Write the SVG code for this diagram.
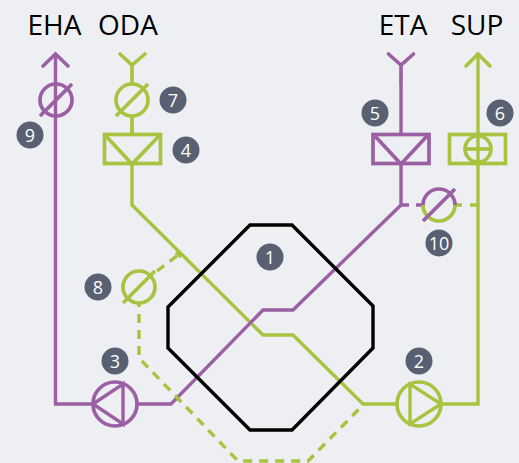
<svg xmlns="http://www.w3.org/2000/svg" width="519" height="463" viewBox="0 0 519 463">
<style>
.p,.g,.k{fill:none;stroke-linejoin:miter}
.p{stroke:#9b5fa3;stroke-width:3.4}
.g{stroke:#a9c23f;stroke-width:3.4}
.s{stroke-width:3.7}
.k{stroke:#000;stroke-width:3.4}
.d{stroke-dasharray:9 7}
.cap{stroke-linecap:round;stroke-width:3.6}
.b{fill:#596072}
.n{font:18px "Open Sans",sans-serif;fill:#fff;text-anchor:middle}
.l{font:28px "Open Sans",sans-serif;fill:#000;text-anchor:middle}
</style>
<rect width="519" height="463" fill="#edeff3"/>
<g id="connectors">
<path class="g" d="M132 164V205L263 335H293L363 404H397"/>
<path class="g" d="M441 404H478V55"/>
<path class="p" d="M55.500 55V404H93"/>
<path class="p" d="M137 404H171L263 310H293L401 205V164"/>
<path class="g d" stroke-dashoffset="5" d="M139 303V358L238 461H308L363 405"/>
<path class="g d" d="M157 271L178 255M176 252L181 257"/>
<path class="p" d="M401 205H409M416 205H423"/>
<path class="g" d="M455 205H462M470 205H478"/>
</g>
<g id="heat-exchanger"><polygon class="k" points="250,225 292,225 373,306 373,348 292,430 250,430 168,348 168,307"/></g>
<g id="EHA"><text class="l" x="54.500" y="35">EHA</text><path class="p cap" d="M43 66L55.500 54L68 66"/></g>
<g id="ODA"><text class="l" x="128" y="35">ODA</text><path class="g cap" d="M120 54L132 65L145 54"/><path class="g s" d="M132 65V85"/></g>
<g id="ETA"><text class="l" x="403" y="35">ETA</text><path class="p cap" d="M388.500 54L401 65L413.500 54"/><path class="p s" d="M401 65V85"/><path class="p" d="M401 85V134"/></g>
<g id="SUP"><text class="l" x="477" y="35">SUP</text><path class="g cap" d="M466 66L478 54L490 66"/></g>
<g id="damper-9"><circle class="p s" cx="56" cy="100" r="16"/><path class="p s" d="M40 116L72 84"/></g>
<g id="damper-7"><circle class="g s" cx="132" cy="100" r="16"/><path class="g s" d="M116 116L148 84M132 116V134"/></g>
<g id="filter-4"><rect class="g s" x="104.500" y="134.500" width="56" height="29"/><path class="g s" d="M105 135L132 164L160 135"/></g>
<g id="filter-5"><rect class="p s" x="373" y="134.500" width="56" height="29"/><path class="p s" d="M374 135L401 164L428 135"/></g>
<g id="heater-6"><rect class="g s" x="449.500" y="134.500" width="56" height="29"/><circle class="g s" cx="478" cy="149" r="13"/><path class="g s" d="M465 149H491"/></g>
<g id="damper-10"><path class="p s" d="M423 205A16 16 0 0 1 455 205"/><path class="g s" d="M423 205A16 16 0 0 0 455 205"/><path class="p s" d="M423 221L455 189"/></g>
<g id="damper-8"><circle class="g s" cx="139" cy="287" r="16"/><path class="g s" d="M123 303L155 271"/></g>
<g id="fan-3"><circle class="p s" cx="115" cy="404" r="22"/><path class="p" d="M123 384V424L93 404Z"/></g>
<g id="fan-2"><circle class="g s" cx="419" cy="404" r="22"/><path class="g" d="M410 384V424L441 404Z"/></g>
<g id="b1"><circle class="b" cx="270" cy="257" r="13.500"/><text class="n" x="270" y="263.500">1</text></g>
<g id="b2"><circle class="b" cx="419" cy="361" r="13.500"/><text class="n" x="419" y="367.500">2</text></g>
<g id="b3"><circle class="b" cx="115" cy="361" r="13.500"/><text class="n" x="115" y="367.500">3</text></g>
<g id="b4"><circle class="b" cx="186" cy="150" r="13.500"/><text class="n" x="186" y="156.500">4</text></g>
<g id="b5"><circle class="b" cx="375" cy="113" r="13.500"/><text class="n" x="375" y="119.500">5</text></g>
<g id="b6"><circle class="b" cx="500" cy="113" r="13.500"/><text class="n" x="500" y="119.500">6</text></g>
<g id="b7"><circle class="b" cx="173" cy="100" r="13.500"/><text class="n" x="173" y="106.500">7</text></g>
<g id="b8"><circle class="b" cx="98" cy="287" r="13.500"/><text class="n" x="98" y="293.500">8</text></g>
<g id="b9"><circle class="b" cx="30" cy="135" r="13.500"/><text class="n" x="30" y="141.500">9</text></g>
<g id="b10"><circle class="b" cx="439" cy="243" r="13.500"/><text class="n" x="439" y="249.500">10</text></g>
</svg>
